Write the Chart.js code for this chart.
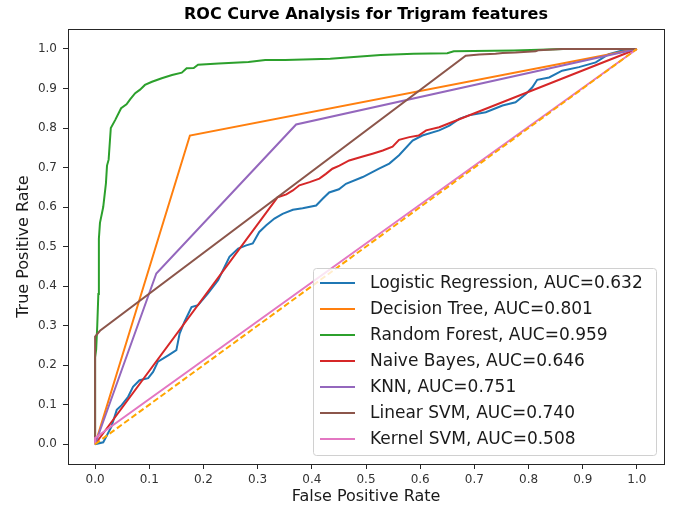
<!DOCTYPE html>
<html>
<head>
<meta charset="utf-8">
<script src="https://cdn.jsdelivr.net/npm/chart.js@4.4.1/dist/chart.umd.min.js"></script>
<style>
html, body { margin: 0; padding: 0; background: #fff; }
</style>
</head>
<body>
<canvas id="rocChart" width="674" height="512"></canvas>
<script>
// values: [false positive rate, true positive rate]
const models = ['Logistic Regression', 'Decision Tree', 'Random Forest', 'Naive Bayes', 'KNN', 'Linear SVM', 'Kernel SVM'];
const aucScores = [0.632, 0.801, 0.959, 0.646, 0.751, 0.740, 0.508];

const logReg = [[0,0],[0.015,0.005],[0.03,0.044],[0.04,0.087],[0.049,0.099],[0.061,0.12],[0.07,0.145],[0.082,0.162],[0.098,0.167],[0.107,0.183],[0.116,0.209],[0.135,0.225],[0.15,0.238],[0.156,0.28],[0.165,0.31],[0.178,0.347],[0.19,0.352],[0.208,0.381],[0.227,0.415],[0.248,0.474],[0.264,0.495],[0.279,0.503],[0.291,0.508],[0.303,0.537],[0.316,0.554],[0.331,0.571],[0.346,0.583],[0.365,0.593],[0.383,0.597],[0.408,0.604],[0.42,0.621],[0.432,0.637],[0.45,0.645],[0.463,0.659],[0.494,0.676],[0.524,0.697],[0.543,0.71],[0.561,0.731],[0.586,0.768],[0.604,0.781],[0.635,0.794],[0.654,0.806],[0.672,0.823],[0.69,0.832],[0.721,0.84],[0.752,0.857],[0.776,0.865],[0.795,0.886],[0.807,0.903],[0.816,0.922],[0.838,0.928],[0.862,0.945],[0.893,0.954],[0.924,0.966],[0.948,0.987],[0.973,0.996],[1,1]];
const decisionTree = [[0,0],[0.175,0.781],[1,1]];
const randomForest = [[0,0],[0,0.22],[0.002,0.24],[0.004,0.3],[0.006,0.38],[0.007,0.52],[0.009,0.56],[0.015,0.6],[0.02,0.66],[0.022,0.705],[0.025,0.72],[0.029,0.8],[0.037,0.82],[0.048,0.85],[0.058,0.86],[0.065,0.873],[0.074,0.888],[0.083,0.897],[0.092,0.909],[0.105,0.917],[0.123,0.926],[0.142,0.934],[0.16,0.94],[0.169,0.951],[0.182,0.952],[0.19,0.96],[0.228,0.963],[0.283,0.967],[0.314,0.972],[0.351,0.972],[0.434,0.975],[0.527,0.985],[0.588,0.988],[0.65,0.989],[0.662,0.994],[0.773,0.996],[0.865,1],[1,1]];
const naiveBayes = [[0,0],[0.337,0.625],[0.353,0.632],[0.365,0.642],[0.377,0.655],[0.396,0.663],[0.414,0.672],[0.426,0.684],[0.438,0.697],[0.451,0.705],[0.469,0.718],[0.494,0.728],[0.512,0.735],[0.531,0.743],[0.549,0.753],[0.561,0.77],[0.58,0.777],[0.597,0.781],[0.611,0.794],[0.635,0.802],[1,1]];
const knn = [[0,0],[0.113,0.432],[0.371,0.809],[1,1]];
const linearSvm = [[0,0],[0,0.272],[0.009,0.287],[0.684,0.983],[0.709,0.986],[0.739,0.988],[0.752,0.99],[0.776,0.991],[0.813,0.994],[0.819,0.997],[0.862,1],[1,1]];
const kernelSvm = [[0,0],[0,0.016],[1,1]];
const chanceLine = [[0,0],[1,1]];

const xTicks = [0, 0.1, 0.2, 0.3, 0.4, 0.5, 0.6, 0.7, 0.8, 0.9, 1.0];
const yTicks = [0, 0.1, 0.2, 0.3, 0.4, 0.5, 0.6, 0.7, 0.8, 0.9, 1.0];

const curves = [logReg, decisionTree, randomForest, naiveBayes, knn, linearSvm, kernelSvm];
const lineColors = ['#1f77b4', '#ff7f0e', '#2ca02c', '#d62728', '#9467bd', '#8c564b', '#e377c2'];

const toPoints = arr => arr.map(([x, y]) => ({ x: x, y: y }));

const datasets = curves.map((c, i) => ({
    label: models[i] + ', AUC=' + aucScores[i].toFixed(3),
    data: toPoints(c),
    borderColor: lineColors[i],
    borderWidth: 2,
    pointRadius: 0,
    fill: false,
    tension: 0,
    order: curves.length + 1 - i
}));
datasets.push({
    label: 'chance',
    data: toPoints(chanceLine),
    borderColor: '#ffa500',
    borderWidth: 2,
    borderDash: [6, 3],
    pointRadius: 0,
    fill: false,
    order: 0,
    noLegend: true
});

const FONT = 'DejaVu Sans';

// box around the plot, like matplotlib spines
const frame = {
    id: 'frame',
    afterDraw(chart) {
        const { ctx, chartArea: a } = chart;
        ctx.save();
        ctx.strokeStyle = '#262626';
        ctx.lineWidth = 1;
        ctx.strokeRect(Math.round(a.left) + 0.5, Math.round(a.top) + 0.5,
            Math.round(a.right - a.left), Math.round(a.bottom - a.top));
        ctx.restore();
    }
};

// legend inside the plot, lower right
const innerLegend = {
    id: 'innerLegend',
    afterDatasetsDraw(chart) {
        const { ctx, chartArea: a } = chart;
        const items = chart.data.datasets.filter(d => !d.noLegend);
        const rowH = 26, w = 343, h = 187;
        const right = a.right - 8, bottom = a.bottom - 9;
        const left = right - w, top = bottom - h;
        ctx.save();
        ctx.beginPath();
        ctx.roundRect(left + 0.5, top + 0.5, w, h, 3);
        ctx.fillStyle = 'rgba(255,255,255,0.8)';
        ctx.fill();
        ctx.strokeStyle = '#d0d0d0';
        ctx.lineWidth = 1;
        ctx.stroke();
        ctx.font = '17px "' + FONT + '"';
        ctx.textBaseline = 'middle';
        ctx.fillStyle = '#1a1a1a';
        items.forEach((d, i) => {
            const y = top + 15 + i * rowH;
            ctx.beginPath();
            ctx.moveTo(left + 7, y);
            ctx.lineTo(left + 42, y);
            ctx.strokeStyle = d.borderColor;
            ctx.lineWidth = 2;
            ctx.stroke();
            ctx.fillText(d.label, left + 57, y + 1);
        });
        ctx.restore();
    }
};

const setTicks = list => axis => { axis.ticks = list.map(v => ({ value: v })); };

new Chart(document.getElementById('rocChart').getContext('2d'), {
    type: 'line',
    data: { datasets: datasets },
    options: {
        responsive: false,
        animation: false,
        layout: { padding: { left: 0, right: 10, top: 0, bottom: 0 } },
        scales: {
            x: {
                type: 'linear',
                min: -0.05,
                max: 1.05,
                afterBuildTicks: setTicks(xTicks),
                afterFit: s => { s.height = 48; },
                ticks: {
                    callback: v => v.toFixed(1),
                    color: '#333',
                    font: { family: FONT, size: 12 },
                    padding: 4,
                    maxRotation: 0,
                    autoSkip: false
                },
                grid: { drawOnChartArea: false, drawTicks: true, tickLength: 5, color: '#262626' },
                border: { display: false },
                title: {
                    display: true,
                    text: 'False Positive Rate',
                    color: '#1a1a1a',
                    font: { family: FONT, size: 16 },
                    padding: { top: 0, bottom: 6 }
                }
            },
            y: {
                type: 'linear',
                min: -0.05,
                max: 1.05,
                afterBuildTicks: setTicks(yTicks),
                afterFit: s => { s.width = 68; },
                ticks: {
                    callback: v => v.toFixed(1),
                    color: '#333',
                    font: { family: FONT, size: 12 },
                    padding: 6,
                    autoSkip: false
                },
                grid: { drawOnChartArea: false, drawTicks: true, tickLength: 5, color: '#262626' },
                border: { display: false },
                title: {
                    display: true,
                    text: 'True Positive Rate',
                    color: '#1a1a1a',
                    font: { family: FONT, size: 16 },
                    padding: { top: 14, bottom: 0 }
                }
            }
        },
        plugins: {
            legend: { display: false },
            tooltip: { enabled: false },
            title: {
                display: true,
                fullSize: false,
                text: 'ROC Curve Analysis for Trigram features',
                color: '#000',
                font: { family: FONT, size: 16, weight: 'bold' },
                padding: { top: 5, bottom: 5 }
            }
        }
    },
    plugins: [frame, innerLegend]
});
</script>
</body>
</html>
